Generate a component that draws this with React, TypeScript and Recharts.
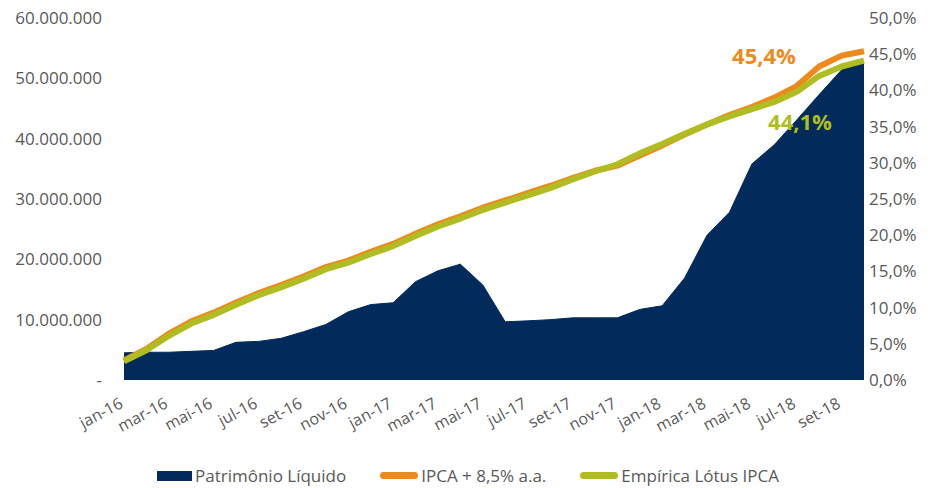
import { AreaChart, Area, Line, XAxis, YAxis, Legend } from 'recharts';

// monthly, jan-16 .. out-18
const MONTHS = [
  'jan-16', 'fev-16', 'mar-16', 'abr-16', 'mai-16', 'jun-16', 'jul-16', 'ago-16', 'set-16', 'out-16', 'nov-16', 'dez-16',
  'jan-17', 'fev-17', 'mar-17', 'abr-17', 'mai-17', 'jun-17', 'jul-17', 'ago-17', 'set-17', 'out-17', 'nov-17', 'dez-17',
  'jan-18', 'fev-18', 'mar-18', 'abr-18', 'mai-18', 'jun-18', 'jul-18', 'ago-18', 'set-18', 'out-18',
];

// Patrimônio Líquido, R$ millions
const PATRIMONIO = [
  4.5, 4.6, 4.6, 4.75, 4.9, 6.25, 6.4, 6.9, 8.0, 9.2, 11.3, 12.5,
  12.8, 16.3, 18.1, 19.2, 15.75, 9.65, 9.8, 10.0, 10.3, 10.3, 10.3, 11.7,
  12.3, 16.9, 24.0, 27.8, 35.8, 39.0, 43.1, 47.3, 51.4, 52.8,
];

// accumulated %, right axis
const IPCA_85 = [
  2.7, 4.3, 6.4, 8.1, 9.3, 10.7, 12.0, 13.1, 14.3, 15.6, 16.5, 17.7,
  18.8, 20.2, 21.5, 22.6, 23.8, 24.8, 25.8, 26.8, 27.9, 28.9, 29.6, 31.0,
  32.4, 33.9, 35.3, 36.6, 37.7, 39.0, 40.6, 43.3, 44.8, 45.4,
];
const EMPIRICA = [
  2.6, 4.1, 6.1, 7.8, 9.0, 10.4, 11.7, 12.8, 14.0, 15.3, 16.2, 17.4,
  18.5, 19.9, 21.2, 22.3, 23.5, 24.5, 25.5, 26.5, 27.7, 28.8, 29.8, 31.3,
  32.6, 34.0, 35.3, 36.4, 37.4, 38.4, 39.8, 42.0, 43.3, 44.1,
];

const LEFT_TICKS = [0, 10000000, 20000000, 30000000, 40000000, 50000000, 60000000];
const RIGHT_TICKS = [0, 5, 10, 15, 20, 25, 30, 35, 40, 45, 50];

const NAVY = '#022b5b';
const ORANGE = '#ee8a1b';
const GREEN = '#afbd22';
const GREY = '#595959';
const FONT = '"Open Sans", sans-serif';

const data = MONTHS.map((m, i) => ({
  month: m,
  pl: PATRIMONIO[i] * 1000000,
  ipca: IPCA_85[i],
  emp: EMPIRICA[i],
}));

const LAST = MONTHS.length - 1;

const fmtMoney = (v: number) => (v === 0 ? '-' : String(v).replace(/\B(?=(\d{3})+(?!\d))/g, '.'));
const fmtPct = (v: number) => v.toFixed(1).replace('.', ',') + '%';

const XTick = ({ x, y, payload }: any) => (
  <text
    x={x}
    y={y + 27}
    transform={`rotate(-28, ${x}, ${y + 27})`}
    textAnchor="end"
    fill={GREY}
    fontSize={16}
    fontFamily={FONT}
  >
    {payload.value}
  </text>
);

const endLabel = (color: string, dx: number, dy: number) => (props: any) => {
  if (props.index !== LAST) return null;
  return (
    <text
      x={props.x + dx}
      y={props.y + dy}
      textAnchor="middle"
      dominantBaseline="central"
      fill={color}
      fontSize={22}
      fontWeight="bold"
      fontFamily={FONT}
    >
      {fmtPct(props.value)}
    </text>
  );
};

const LEGEND_ITEMS = [
  { label: 'Patrimônio Líquido', color: NAVY, kind: 'rect' },
  { label: 'IPCA + 8,5% a.a.', color: ORANGE, kind: 'line' },
  { label: 'Empírica Lótus IPCA', color: GREEN, kind: 'line' },
];

const renderLegend = () => (
  <div style={{ display: 'flex', justifyContent: 'center', gap: 34, paddingLeft: 12, fontFamily: FONT, fontSize: 17, color: GREY }}>
    {LEGEND_ITEMS.map((it) => (
      <div key={it.label} style={{ display: 'flex', alignItems: 'center', gap: 3 }}>
        <span
          style={{
            display: 'inline-block',
            width: it.kind === 'rect' ? 35 : 38,
            height: it.kind === 'rect' ? 10 : 7,
            borderRadius: it.kind === 'rect' ? 0 : 4,
            background: it.color,
          }}
        />
        <span>{it.label}</span>
      </div>
    ))}
  </div>
);

export default function App() {
  return (
    <div style={{ position: 'absolute', left: 0, top: 0, width: 933, height: 488, background: '#fff' }}>
      <AreaChart width={933} height={488} data={data} margin={{ top: 18, right: 9, left: 0, bottom: 0 }}>
        <XAxis
          dataKey="month"
          interval={1}
          axisLine={false}
          tickLine={false}
          tickSize={0}
          tickMargin={0}
          height={84}
          tick={<XTick />}
        />
        <YAxis
          yAxisId="left"
          width={124}
          domain={[0, 60000000]}
          ticks={LEFT_TICKS}
          tickFormatter={fmtMoney}
          axisLine={false}
          tickLine={false}
          tickSize={0}
          tickMargin={22}
          tick={{ fill: GREY, fontSize: 17, fontFamily: FONT }}
        />
        <YAxis
          yAxisId="right"
          orientation="right"
          width={60}
          domain={[0, 50]}
          ticks={RIGHT_TICKS}
          tickFormatter={fmtPct}
          axisLine={false}
          tickLine={false}
          tickSize={0}
          tickMargin={5}
          tick={{ fill: GREY, fontSize: 17, fontFamily: FONT }}
        />
        <Legend verticalAlign="bottom" height={24} content={renderLegend} />
        <Area
          yAxisId="left"
          type="linear"
          dataKey="pl"
          name="Patrimônio Líquido"
          fill={NAVY}
          fillOpacity={1}
          stroke={NAVY}
          strokeWidth={1}
          isAnimationActive={false}
        />
        <Line
          yAxisId="right"
          type="linear"
          dataKey="ipca"
          name="IPCA + 8,5% a.a."
          stroke={ORANGE}
          strokeWidth={6}
          strokeLinejoin="round"
          dot={false}
          activeDot={false}
          label={endLabel(ORANGE, -100, 4)}
          isAnimationActive={false}
        />
        <Line
          yAxisId="right"
          type="linear"
          dataKey="emp"
          name="Empírica Lótus IPCA"
          stroke={GREEN}
          strokeWidth={6}
          strokeLinejoin="round"
          dot={false}
          activeDot={false}
          label={endLabel(GREEN, -64, 60)}
          isAnimationActive={false}
        />
      </AreaChart>
    </div>
  );
}
